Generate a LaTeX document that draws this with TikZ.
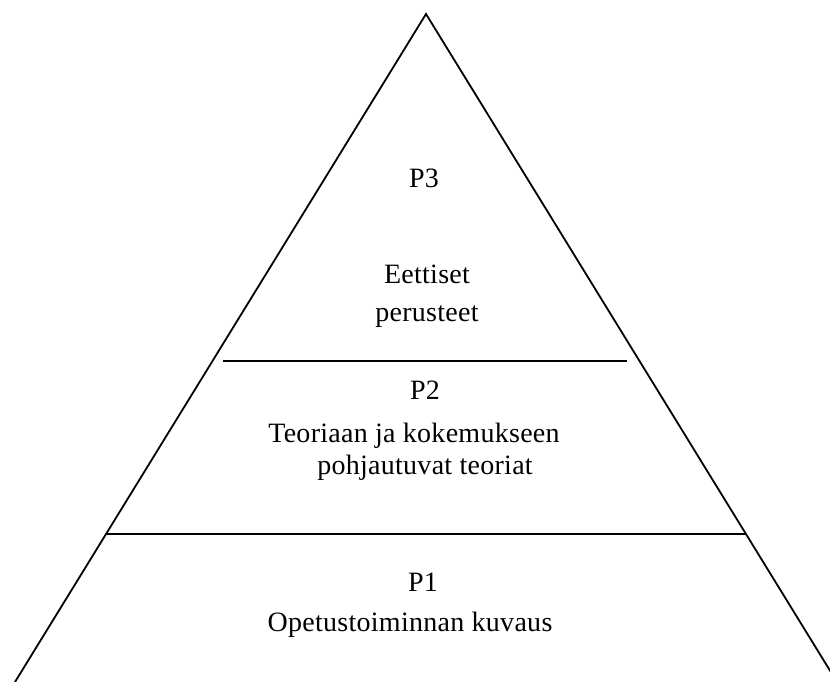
\documentclass[tikz,border=0pt]{standalone}
\usepackage{fontspec}
\setmainfont{Liberation Serif}[LetterSpace=1]
\begin{document}
\begin{tikzpicture}[x=1pt,y=1pt,
  edge/.style={line width=1.8pt,line join=miter},
  lbl/.style={inner sep=0pt,anchor=base,font=\fontsize{28}{33}\selectfont}]
\useasboundingbox (0,0) rectangle (830,682);
\begin{scope}
\clip (0,0) rectangle (830,682);
\coordinate (apex) at (426,668);
\coordinate (bl) at (15,0);
\coordinate (br) at (837,0);
\draw[edge] (bl) -- (apex) -- (br);
\coordinate (a1) at (223,321);
\coordinate (a2) at (627,321);
\draw[edge] (a1) -- (a2);
\coordinate (b1) at (106,148);
\coordinate (b2) at (746,148);
\draw[edge] (b1) -- (b2);
\end{scope}
\node[lbl] (p3) at (424,494) {P3};
\node[lbl] (e1) at (427,398) {Eettiset};
\node[lbl] (e2) at (427,360) {perusteet};
\node[lbl] (p2) at (425,282) {P2};
\node[lbl] (t1) at (414,239) {Teoriaan ja kokemukseen};
\node[lbl] (t2) at (425,207) {pohjautuvat teoriat};
\node[lbl] (p1) at (423,90) {P1};
\node[lbl] (o1) at (410,50) {Opetustoiminnan kuvaus};
\end{tikzpicture}
\end{document}
